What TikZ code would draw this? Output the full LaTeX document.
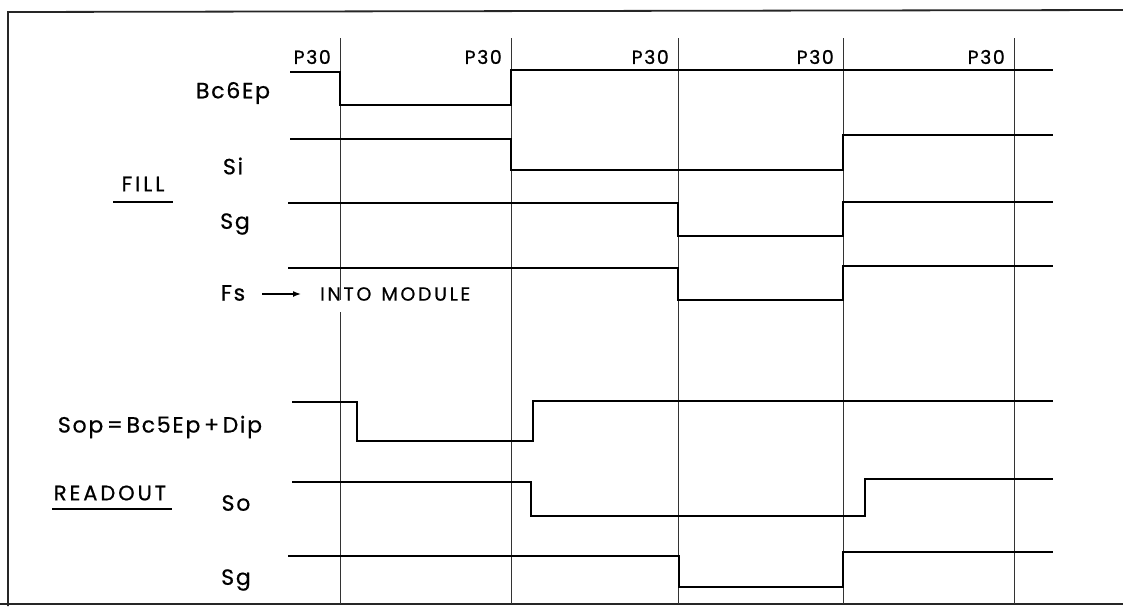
\documentclass[tikz,border=0pt]{standalone}
\usepackage{fontspec}
\setmainfont{Poppins}[LetterSpace=8,FakeBold=0.7]
\newfontfamily\widefont{Poppins}[LetterSpace=14,FakeBold=0.7]
\usetikzlibrary{arrows.meta}
\begin{document}
\begin{tikzpicture}[x=1pt,y=-1pt,
  sig/.style={line width=2.8pt, line join=miter},
  gridline/.style={line width=1pt, black!80},
  framel/.style={line width=1.8pt, black!85},
  lbl/.style={font=\fontsize{22}{22}\selectfont, inner sep=0pt},
  small/.style={font=\fontsize{19}{19}\selectfont, inner sep=0pt},
  heading/.style={font=\widefont\fontsize{21}{21}\selectfont, inner sep=0pt}]
\useasboundingbox (0,0) rectangle (1123,606);
% frame
\draw[framel] (8,606) -- (8,12) -- (1123,10);
\draw[framel] (0,604) -- (1123,604);
% grid lines
\draw[gridline] (340,38) -- (340,300);
\draw[gridline] (340,312) -- (340,604);
\foreach \x in {511,678,843,1014} \draw[gridline] (\x,38) -- (\x,604);
% P30 labels
\foreach \x/\n in {340/a,511/b,678/c,843/d,1014/e}
  \node[small, anchor=east] (p\n) at (\x-9,57) {P30};
% FILL signals
\draw[sig] (290,72) -- (340,72) -- (340,105) -- (511,105) -- (511,70) -- (1053,70);
\draw[sig] (290,139) -- (511,139) -- (511,170) -- (843,170) -- (843,135) -- (1053,135);
\draw[sig] (288,203) -- (678,203) -- (678,236) -- (843,236) -- (843,202) -- (1053,202);
\draw[sig] (288,268) -- (678,268) -- (678,300) -- (843,300) -- (843,266) -- (1053,266);
% READOUT signals
\draw[sig] (292,402) -- (357,402) -- (357,441) -- (533,441) -- (533,401) -- (1053,401);
\draw[sig] (292,482) -- (531,482) -- (531,516) -- (865,516) -- (865,479) -- (1053,479);
\draw[sig] (288,556) -- (679,556) -- (679,587) -- (843,587) -- (843,552) -- (1053,552);
% labels
\node[lbl] (bc6) at (233,93) {Bc6Ep};
\node[lbl] (si) at (233,166) {Si};
\node[lbl] (sg1) at (235,224) {Sg};
\node[lbl] (fs) at (233,293) {Fs};
\node[small, anchor=west, font=\widefont\fontsize{19}{19}\selectfont] (into) at (320,294) {INTO\hspace{10pt}MODULE};
\coordinate (arrs) at (262,294);
\draw[line width=1.4pt, -{Latex[length=8pt,width=6pt]}] (arrs) -- (into.west -| 301,0);
\node[heading] (fill) at (143,184) {FILL};
\draw[line width=1.4pt] (113,202) -- (173,202);
\node[lbl] (sop) at (160,427) {Sop\,=\,Bc5Ep\,+\,Dip};
\node[heading] (readout) at (110,493) {READOUT};
\draw[line width=1.4pt] (52,509) -- (172,509);
\node[lbl] (so) at (236,503) {So};
\node[lbl] (sg2) at (236,580) {Sg};
\end{tikzpicture}
\end{document}
